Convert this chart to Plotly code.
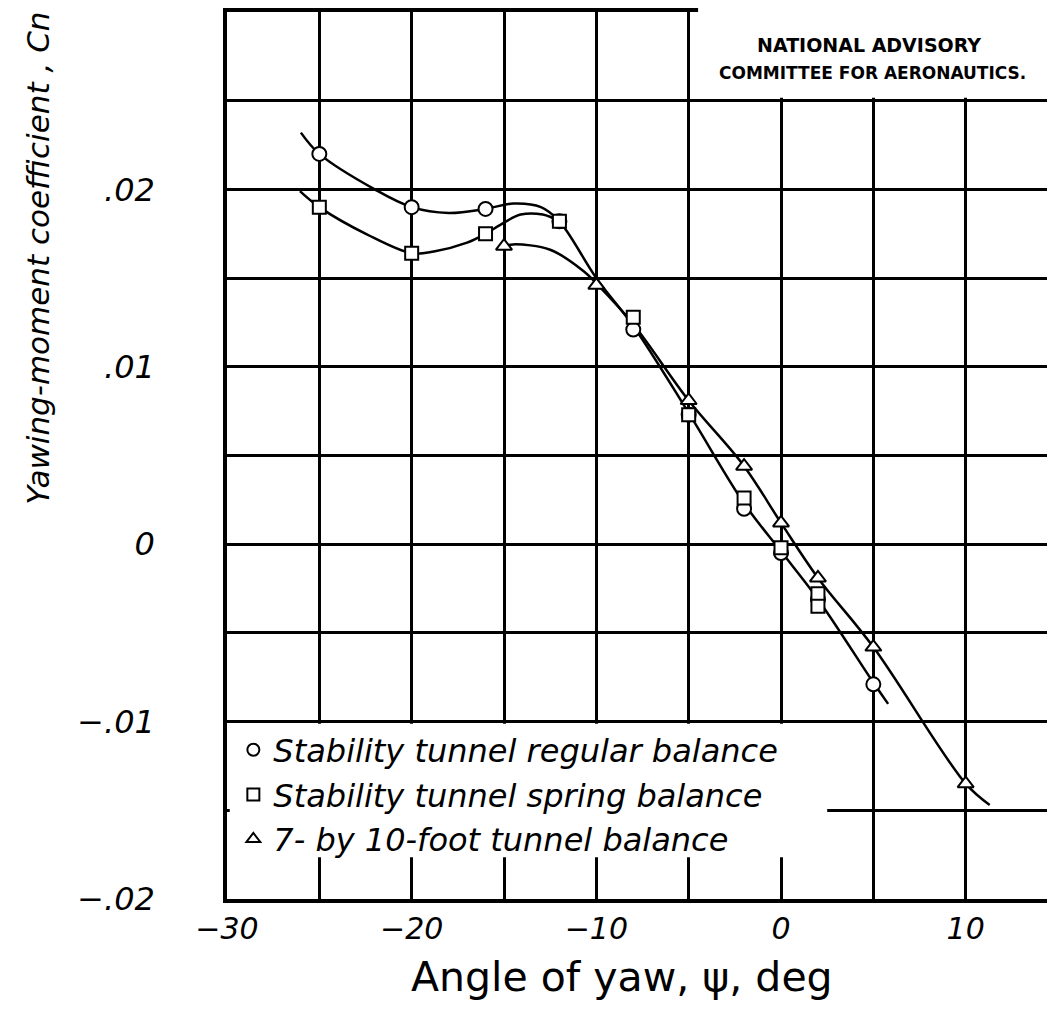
import plotly.graph_objects as go

# ---- data ----
# measured points
reg_x = [-25, -20, -16, -12, -8, -5, -2, 0, 2, 5]
reg_y = [0.0220, 0.0190, 0.0189, 0.0182, 0.0121, 0.0073, 0.0020, -0.0005, -0.0031, -0.0079]
spr_x = [-25, -20, -16, -12, -8, -5, -2, 0, 2, 2]
spr_y = [0.0190, 0.0164, 0.0175, 0.0182, 0.0128, 0.0073, 0.0026, -0.0002, -0.0028, -0.0035]
ten_x = [-15, -10, -5, -2, 0, 2, 5, 10]
ten_y = [0.0168, 0.0146, 0.0081, 0.0044, 0.0012, -0.0019, -0.0058, -0.0135]

# faired curves as drawn in the reference
fairA_x = [-26.0, -25.0, -22.0, -20.0, -18.0, -16.0, -14.5, -13.0, -12.0, -10.0, -8.0, -5.0, -2.0, 0.0, 2.0, 5.0, 5.8]
fairA_y = [0.0232, 0.0220, 0.0200, 0.0190, 0.01867, 0.0189, 0.0192, 0.0190, 0.0182, 0.0150, 0.0123, 0.0074, 0.0023, -0.0004, -0.0031, -0.0078, -0.0090]
fairB_x = [-26.05, -25.0, -22.4, -20.0, -18.8, -17.0, -16.0, -15.2, -14.1, -12.9, -12.0]
fairB_y = [0.0199, 0.0190, 0.01745, 0.0164, 0.0165, 0.0170, 0.0175, 0.0180, 0.01858, 0.01858, 0.0182]
fairC_x = [-15.0, -14.5, -12.5, -10.7, -10.0, -8.0, -5.0, -2.0, 0.0, 2.0, 5.0, 10.0, 11.3]
fairC_y = [0.0168, 0.0169, 0.0166, 0.0154, 0.0147, 0.0124, 0.0081, 0.0044, 0.0012, -0.0019, -0.0058, -0.0135, -0.0147]

x_ticks = [-30, -25, -20, -15, -10, -5, 0, 5, 10, 15]
x_text = ["\u221230", "", "\u221220", "", "\u221210", "", "0", "", "10", ""]
y_ticks = [-0.02, -0.015, -0.01, -0.005, 0, 0.005, 0.01, 0.015, 0.02, 0.025, 0.03]
y_text = ["\u2212.02", "", "\u2212.01", "", "0", "", ".01", "", ".02", "", ""]

legend_names = ["Stability tunnel regular balance",
                "Stability tunnel spring balance",
                "7- by 10-foot tunnel balance"]

FONT = "DejaVu Sans"
fig = go.Figure()

for fx, fy in [(fairA_x, fairA_y), (fairB_x, fairB_y), (fairC_x, fairC_y)]:
    fig.add_trace(go.Scatter(x=fx, y=fy, mode="lines", line=dict(color="black", width=2.5, shape="spline", smoothing=1.0),
                             showlegend=False, hoverinfo="skip"))

for (px, py, sym, sz, name, grp) in [(reg_x, reg_y, "circle", 14, legend_names[0], "a"),
                                     (spr_x, spr_y, "square", 13, legend_names[1], "b"),
                                     (ten_x, ten_y, "triangle-up", 14, legend_names[2], "c")]:
    fig.add_trace(go.Scatter(x=px, y=py, mode="markers", name=name, legendgroup=grp,
                             marker=dict(symbol=sym, size=sz, color="white", line=dict(color="black", width=2))))

fig.update_layout(
    width=1055, height=1009,
    margin=dict(l=219, r=0, t=2, b=118),
    paper_bgcolor="white", plot_bgcolor="white",
    font=dict(family=FONT, color="black"),
    showlegend=True,
    legend=dict(x=0.0076, y=0.199, xanchor="left", yanchor="top", bgcolor="rgba(0,0,0,0)",
                font=dict(family=FONT, size=32, style="italic", color="black"),
                tracegroupgap=0, traceorder="grouped", itemsizing="constant"),
    shapes=[
        dict(type="rect", xref="x", yref="y", x0=-29.85, x1=2.5, y0=-0.01764, y1=-0.01012,
             fillcolor="white", line=dict(width=0), layer="above"),
        dict(type="rect", xref="paper", yref="paper", x0=0.5635, x1=1.02, y0=0.9033, y1=1.05,
             fillcolor="white", line=dict(width=0), layer="above"),
    ],
    annotations=[
        dict(text="Yawing-moment coefficient , Cn", xref="paper", yref="paper", x=-0.226, y=0.722,
             textangle=-90, showarrow=False, xanchor="center", yanchor="middle",
             font=dict(family=FONT, size=31, style="italic")),
        dict(text="Angle of yaw, \u03c8, deg", xref="paper", yref="paper", x=0.472, y=-0.088,
             showarrow=False, xanchor="center", yanchor="middle",
             font=dict(family=FONT, size=41)),
        dict(text="<b>NATIONAL ADVISORY</b>", xref="paper", yref="paper",
             x=0.768, y=0.9623, showarrow=False, xanchor="center", yanchor="middle",
             font=dict(family=FONT, size=19)),
        dict(text="<b>COMMITTEE FOR AERONAUTICS.</b>", xref="paper", yref="paper",
             x=0.772, y=0.9308, showarrow=False, xanchor="center", yanchor="middle",
             font=dict(family=FONT, size=17)),
    ],
)

fig.update_xaxes(range=[-30, 15.27], tickvals=x_ticks, ticktext=x_text, showgrid=True, gridcolor="black",
                 gridwidth=2.8, zeroline=False, showline=True, linecolor="black", linewidth=3.5, mirror=True,
                 ticks="", ticklabelstandoff=0, tickfont=dict(family=FONT, size=30, style="italic"))
fig.update_yaxes(range=[-0.02, 0.03], tickvals=y_ticks, ticktext=y_text, showgrid=True, gridcolor="black",
                 gridwidth=2.8, zeroline=False, showline=True, linecolor="black", linewidth=3.5, mirror=False,
                 ticks="", ticklabelstandoff=62, tickfont=dict(family=FONT, size=32, style="italic"))

fig.write_html("out.html")
